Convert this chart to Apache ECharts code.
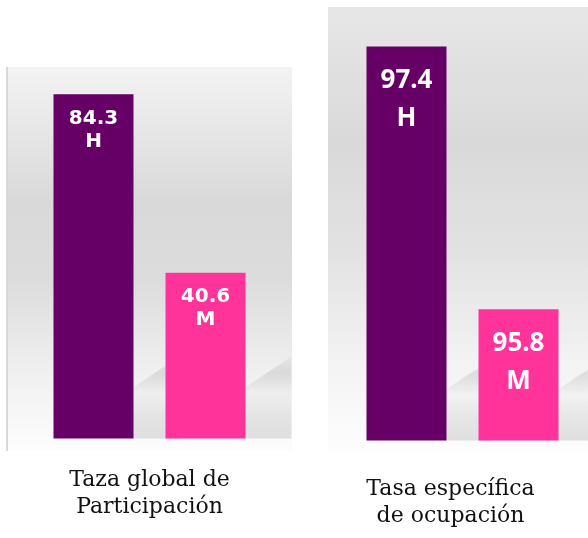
<!DOCTYPE html>
<html>
<head>
<meta charset="utf-8">
<script src="https://cdn.jsdelivr.net/npm/echarts@6/dist/echarts.min.js"></script>
<style>html,body{margin:0;padding:0;background:#fff}#c{width:588px;height:538px}</style>
</head>
<body>
<div id="c"></div>
<script>
// ---- data ----
const panelCategories = ['Taza global de\nParticipación', 'Tasa específica\nde ocupación'];
const seriesNames = ['H', 'M'];
const hombresValues = [84.3, 97.4];
const mujeresValues = [40.6, 95.8];
const axisMin = [0, 95];
const axisMax = [100, 97.5];

const PURPLE = '#660066';
const PINK = '#FF3399';
const BAR_W = 80;
const BAR_GAP = 32;

const chart = echarts.init(document.getElementById('c'), null, {renderer: 'canvas'});

const labelStyles = [
  {fontFamily: 'DejaVu Sans', fontWeight: 'bold', fontSize: 20, lineHeight: 23, distance: 13},
  {fontFamily: '"Noto Sans", sans-serif', fontWeight: 'bold', fontSize: 26, lineHeight: 38, distance: 15}
];

function shadowRender(params, api) {
  const idx = api.value(2); // 0 = H, 1 = M
  const base = api.coord([0, api.value(3)]);
  const cx = base[0] + (idx === 0 ? -1 : 1) * (BAR_W + BAR_GAP) / 2;
  const x1 = cx + BAR_W / 2;
  const yb = base[1];
  const dx = 46;
  return {
    type: 'polygon',
    shape: {points: [[x1 - 2, yb], [x1 - 2, yb - 50], [x1 + dx, yb - 82], [x1 + dx, yb]]},
    style: {
      fill: new echarts.graphic.LinearGradient(0, 1, 0, 0, [
        {offset: 0, color: 'rgba(0,0,0,0.11)'},
        {offset: 0.25, color: 'rgba(0,0,0,0.08)'},
        {offset: 0.55, color: 'rgba(0,0,0,0.02)'},
        {offset: 0.8, color: 'rgba(0,0,0,0.09)'},
        {offset: 1, color: 'rgba(0,0,0,0.03)'}
      ]),
      shadowBlur: 10,
      shadowColor: 'rgba(0,0,0,0.06)'
    }
  };
}

const grids = [
  {left: 7, width: 285, top: 30, bottom: 99.5},
  {left: 337, width: 270, top: 30, bottom: 97.5}
];

const xAxes = [], yAxes = [], series = [];
panelCategories.forEach((cat, i) => {
  xAxes.push({
    type: 'category', gridIndex: i, data: [cat],
    axisLine: {show: false}, axisTick: {show: false},
    axisLabel: {
      margin: i === 0 ? 28 : 35,
      fontFamily: '"DejaVu Serif", serif',
      fontSize: 22, lineHeight: 27, color: '#111',
      padding: i === 0 ? [0, 0, 0, 0] : [0, 24, 0, 0]
    }
  });
  yAxes.push({
    type: 'value', gridIndex: i, min: axisMin[i], max: axisMax[i],
    show: false, splitLine: {show: false}
  });
  const ls = labelStyles[i];
  [hombresValues, mujeresValues].forEach((arr, k) => {
    series.push({
      type: 'custom', xAxisIndex: i, yAxisIndex: i, z: 1, silent: true,
      renderItem: shadowRender,
      data: [[0, arr[i], k, axisMin[i]]],
      clip: false
    });
  });
  [hombresValues, mujeresValues].forEach((arr, k) => {
    series.push({
      type: 'bar', name: seriesNames[k], xAxisIndex: i, yAxisIndex: i, z: 2,
      barWidth: BAR_W, barGap: (BAR_GAP / BAR_W * 100) + '%',
      data: [arr[i]],
      itemStyle: {color: k === 0 ? PURPLE : PINK},
      label: {
        show: true, position: 'insideTop', distance: ls.distance,
        formatter: p => '{v|' + p.value + '}\n{s|' + p.seriesName + '}',
        rich: {
          v: {color: '#fff', fontFamily: ls.fontFamily, fontWeight: 'bold', fontSize: ls.fontSize, lineHeight: ls.lineHeight, align: 'center'},
          s: {color: '#fff', fontFamily: ls.fontFamily, fontWeight: 'bold', fontSize: ls.fontSize, lineHeight: ls.lineHeight, align: 'center'}
        }
      }
    });
  });
});

chart.setOption({
  animation: false,
  backgroundColor: '#ffffff',
  grid: grids,
  xAxis: xAxes,
  yAxis: yAxes,
  series: series,
  graphic: [
    {type: 'rect', z: -10, shape: {x: 6, y: 67, width: 286, height: 384},
      style: {fill: new echarts.graphic.LinearGradient(0, 0, 0, 1, [
        {offset: 0, color: '#f3f3f3'},
        {offset: 0.35, color: '#d9d9d9'},
        {offset: 0.55, color: '#dcdcdc'},
        {offset: 0.8, color: '#f0f0f0'},
        {offset: 1, color: '#fdfdfd'}
      ])}},
    {type: 'rect', z: -9, shape: {x: 6, y: 67, width: 2, height: 384}, style: {fill: '#d9d9d9'}},
    {type: 'rect', z: -10, shape: {x: 328, y: 7, width: 260, height: 445},
      style: {fill: new echarts.graphic.LinearGradient(0, 0, 0, 1, [
        {offset: 0, color: '#e7e7e7'},
        {offset: 0.3, color: '#d9d9d9'},
        {offset: 0.55, color: '#e2e2e2'},
        {offset: 0.8, color: '#f3f3f3'},
        {offset: 1, color: '#fdfdfd'}
      ])}}
  ]
});
</script>
</body>
</html>
